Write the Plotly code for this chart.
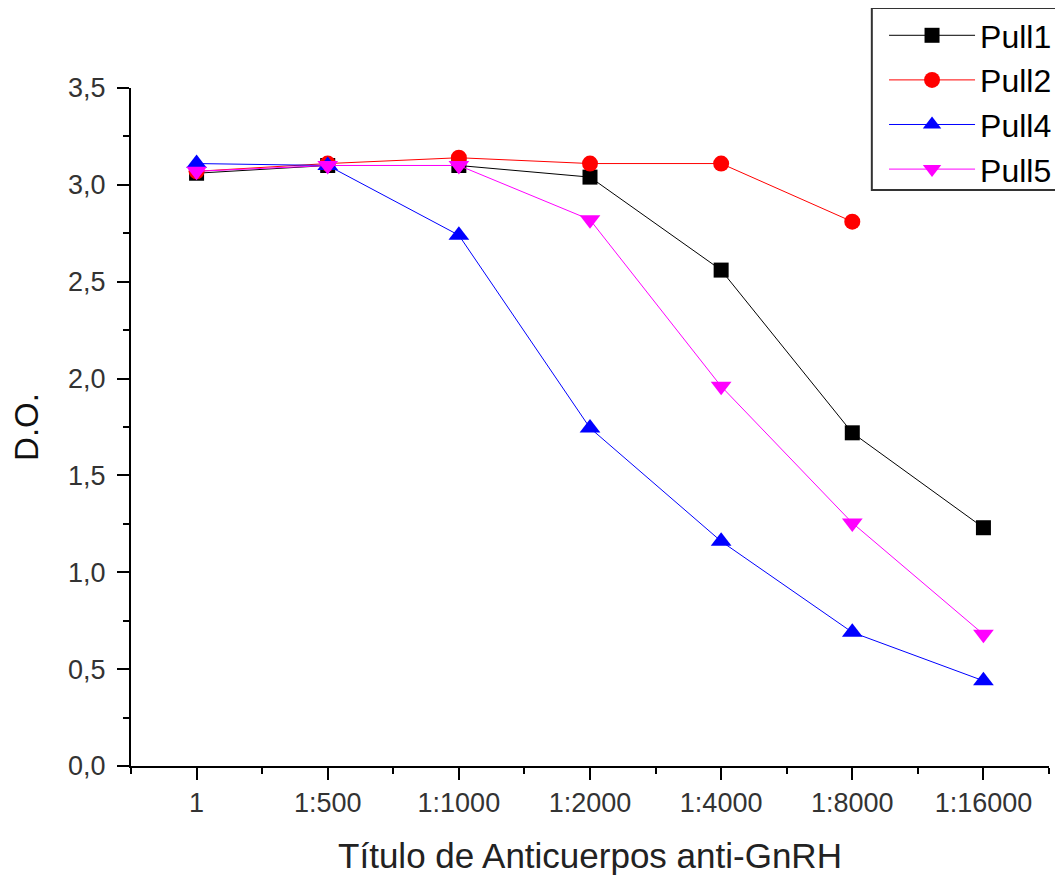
import plotly.graph_objects as go

categories = ["1", "1:500", "1:1000", "1:2000", "1:4000", "1:8000", "1:16000"]
pull1 = [3.06, 3.10, 3.10, 3.04, 2.56, 1.72, 1.23]
pull2 = [3.07, 3.11, 3.14, 3.11, 3.11, 2.81]
pull4 = [3.11, 3.10, 2.74, 1.745, 1.16, 0.69, 0.44]
pull5 = [3.07, 3.10, 3.10, 2.82, 1.96, 1.255, 0.68]
y_ticks = [0, 0.5, 1.0, 1.5, 2.0, 2.5, 3.0, 3.5]
y_ticklabels = ["0,0", "0,5", "1,0", "1,5", "2,0", "2,5", "3,0", "3,5"]

series = [
    ("Pull1", pull1, "black", "square", 15),
    ("Pull2", pull2, "red", "circle", 16),
    ("Pull4", pull4, "blue", "triangle-up", 18),
    ("Pull5", pull5, "magenta", "triangle-down", 18),
]

fig = go.Figure()
for name, vals, color, sym, size in series:
    fig.add_trace(go.Scatter(
        x=list(range(len(vals))), y=vals, name=name, mode="lines+markers",
        line=dict(color=color, width=1),
        marker=dict(symbol=sym, size=size, color=color),
    ))

font = "Liberation Sans, Arial, sans-serif"
fig.add_shape(type="rect", xref="paper", yref="paper",
              x0=0.807, x1=1.05, y0=0.8496, y1=1.118,
              line=dict(color="#333333", width=2), fillcolor="white", layer="above")
fig.update_layout(
    width=1063, height=875,
    margin=dict(l=123, r=22, t=80, b=117, autoexpand=False),
    plot_bgcolor="white", paper_bgcolor="white",
    font=dict(family=font, color="#333333"),
    showlegend=True,
    legend=dict(
        x=0.8203, y=1.118, xanchor="left", yanchor="top",
        borderwidth=0, bgcolor="rgba(0,0,0,0)",
        font=dict(size=32, color="black", family=font),
        itemwidth=86, tracegroupgap=0,
    ),
    xaxis=dict(
        range=[-0.5, 6.5], tickmode="array",
        tickvals=list(range(len(categories))), ticktext=categories,
        showgrid=False, zeroline=False,
        showline=True, linecolor="black", linewidth=2,
        ticks="outside", ticklen=12, tickwidth=2, tickcolor="black",
        tickfont=dict(size=27, color="#333333"),
        minor=dict(tickmode="array", tickvals=[i - 0.5 for i in range(len(categories) + 1)],
                   ticks="outside", ticklen=6, tickwidth=2, tickcolor="black", showgrid=False),
        title=dict(text="Título de Anticuerpos anti-GnRH", font=dict(size=35, color="#222222"), standoff=26),
    ),
    yaxis=dict(
        range=[0, 3.5], tickmode="array", tickvals=y_ticks, ticktext=y_ticklabels,
        showgrid=False, zeroline=False,
        showline=True, linecolor="black", linewidth=2,
        ticks="outside", ticklen=12, tickwidth=2, tickcolor="black",
        tickfont=dict(size=27, color="#333333"), ticklabelstandoff=6,
        minor=dict(tickmode="array", tickvals=[0.25 + 0.5 * i for i in range(7)],
                   ticks="outside", ticklen=6, tickwidth=2, tickcolor="black", showgrid=False),
        title=dict(text="D.O.", font=dict(size=33, color="#111111"), standoff=24),
    ),
)

fig.write_html("out.html")
